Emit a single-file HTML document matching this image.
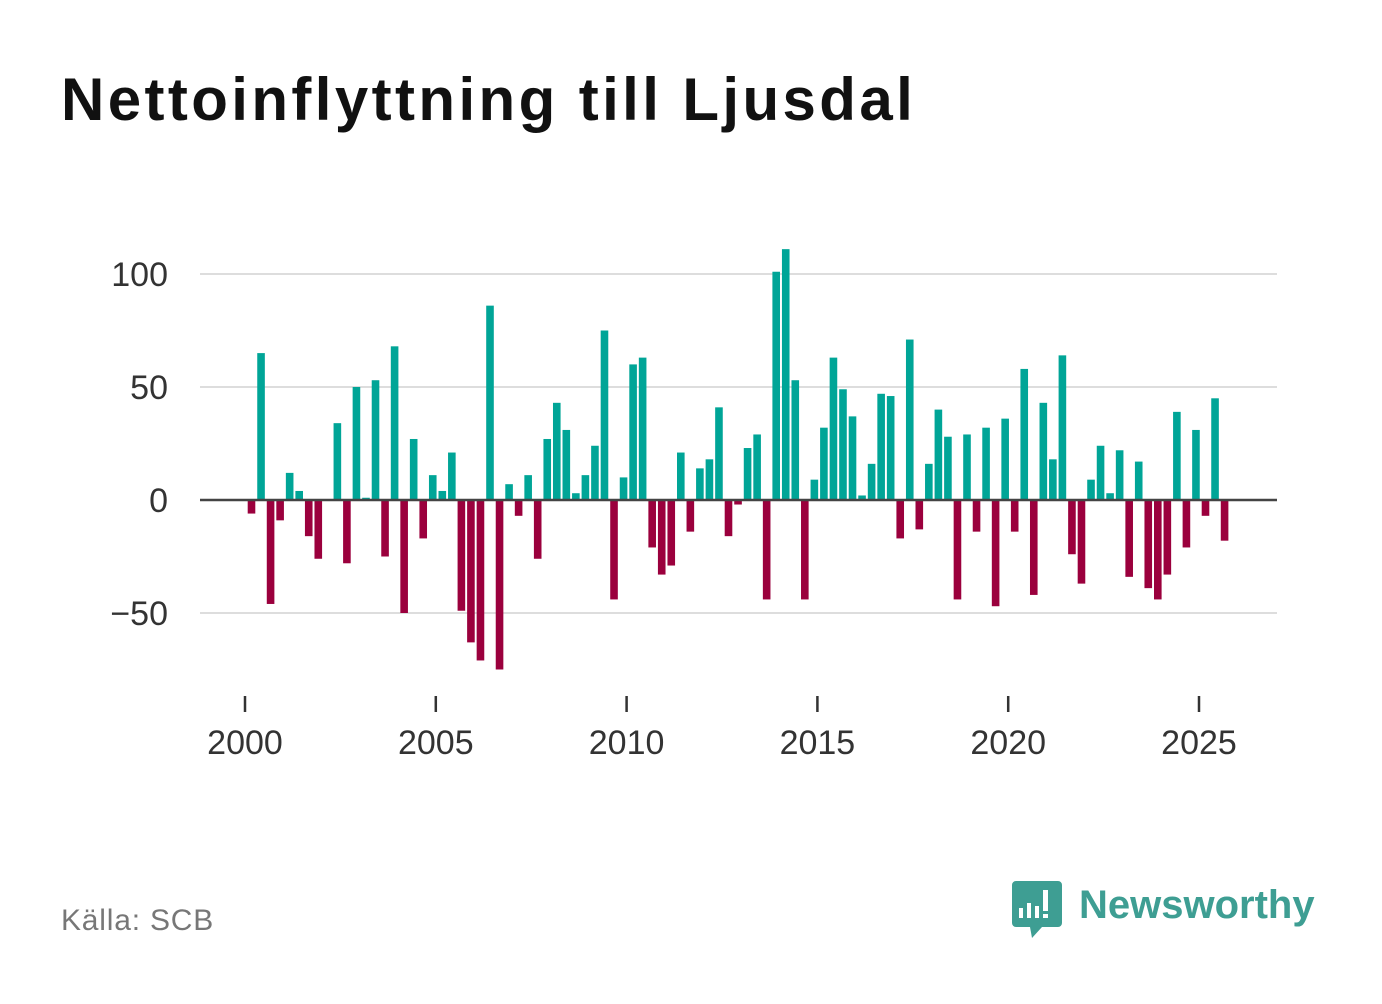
<!DOCTYPE html>
<html><head><meta charset="utf-8"><style>
body{margin:0;background:#fff;width:1382px;height:999px;overflow:hidden;font-family:"Liberation Sans","DejaVu Sans",sans-serif}
</style></head><body>
<svg id="chart" width="1382" height="999" xmlns="http://www.w3.org/2000/svg">
<text x="61" y="120" font-size="60" font-weight="bold" fill="#111" letter-spacing="3.4" font-family="Liberation Sans, sans-serif">Nettoinflyttning till Ljusdal</text>
<g id="grid"></g><g id="bars"></g><g id="axes"></g>
<text x="61" y="930" font-size="30" fill="#777" letter-spacing="0.8">Källa: SCB</text>
<g>
<path d="M1016 881 h42 a4 4 0 0 1 4 4 v38 a4 4 0 0 1 -4 4 h-16 l-10 11 l-2 -11 h-14 a4 4 0 0 1 -4 -4 v-38 a4 4 0 0 1 4 -4z" fill="#3e9e93"/>
<rect x="1019" y="908" width="4" height="10" fill="#fff"/><rect x="1027" y="903" width="4" height="15" fill="#fff"/><rect x="1035" y="906" width="4" height="12" fill="#fff"/><rect x="1043" y="890" width="5" height="21" fill="#fff"/><rect x="1043" y="914" width="5" height="4" fill="#fff"/>
<text x="1079" y="918" font-size="40" font-weight="bold" fill="#3e9e93">Newsworthy</text>
</g>
</svg>
<script>
const yTicks=[-50,0,50,100];
const xTicks=[2000,2005,2010,2015,2020,2025];
const values=[-6,65,-46,-9,12,4,-16,-26,0,34,-28,50,1,53,-25,68,-50,27,-17,11,4,21,-49,-63,-71,86,-75,7,-7,11,-26,27,43,31,3,11,24,75,-44,10,60,63,-21,-33,-29,21,-14,14,18,41,-16,-2,23,29,-44,101,111,53,-44,9,32,63,49,37,2,16,47,46,-17,71,-13,16,40,28,-44,29,-14,32,-47,36,-14,58,-42,43,18,64,-24,-37,9,24,3,22,-34,17,-39,-44,-33,39,-21,31,-7,45,-18];
const startYear=2000;
const NS="http://www.w3.org/2000/svg";
const y=v=>500-v*2.26;
const x=yr=>245+(yr-2000)*38.16;
function mk(t,a,p){const e=document.createElementNS(NS,t);for(const k in a)e.setAttribute(k,a[k]);document.getElementById(p).appendChild(e);return e;}
yTicks.forEach(v=>{
 if(v!==0){const l=mk('line',{x1:200,x2:1277,y1:y(v),y2:y(v),stroke:'#ddd','stroke-width':2},'grid');
 
 }
 const t=mk('text',{x:168,y:y(v)+12,'font-size':34,fill:'#333','text-anchor':'end'},'axes');
 t.textContent=v<0?'\u2212'+Math.abs(v):v;
 
 
});
values.forEach((v,i)=>{
 const cx=x(startYear+i/4)+6.5;
 const r=mk('rect',{x:cx-3.8,width:7.6,y:Math.min(y(v),y(0)),height:Math.abs(y(v)-y(0)),fill:v>=0?'#00a597':'#9b003d'},'bars');
 
 
});
const z=mk('line',{x1:200,x2:1277,y1:y(0),y2:y(0),stroke:'#444','stroke-width':2.5},'axes');


xTicks.forEach(yr=>{
 const tk=mk('line',{x1:x(yr),x2:x(yr),y1:696,y2:712,stroke:'#333','stroke-width':2.5},'axes');
 
 
 const t=mk('text',{x:x(yr),y:754,'font-size':34,fill:'#333','text-anchor':'middle'},'axes');
 t.textContent=yr;
 
 
});
</script>
</body></html>
